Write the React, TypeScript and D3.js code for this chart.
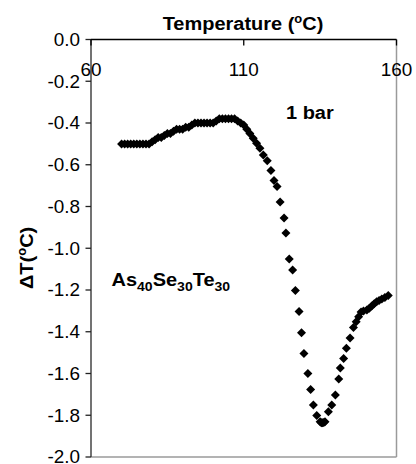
import React from "react";
import * as d3 from "d3";

const temps = [
  70, 71, 72, 73, 74, 75, 76, 77, 78, 79, 80, 81, 82, 83, 84, 85, 86, 87, 88, 89, 90,
  91, 92, 93, 94, 95, 96, 97, 98, 99, 100, 101, 102, 103, 104, 105, 106, 107, 108, 109,
  110, 111, 112, 113.1, 114.2, 115.3, 116.4, 117.7, 118.9, 119.9, 120.9, 121.9, 123.2,
  123.8, 124.9, 126.0, 126.9, 128.1, 128.9, 129.7, 131.0, 131.9, 132.8, 133.9, 135.0,
  135.4, 135.8, 136.2, 136.6, 137.7, 138.8, 140.0, 141.1, 141.6, 142.7, 143.6, 144.8,
  145.9, 146.8, 147.6, 148.4, 149.2, 150.3, 151.1, 151.9, 152.7, 153.5, 154.3, 155.2,
  156.2, 157.3,
];
const deltaT = [
  -0.5, -0.5, -0.5, -0.5, -0.5, -0.5, -0.5, -0.5, -0.5, -0.5, -0.49, -0.48, -0.47, -0.47,
  -0.46, -0.45, -0.45, -0.44, -0.43, -0.43, -0.43, -0.42, -0.42, -0.41, -0.4, -0.4, -0.4,
  -0.4, -0.4, -0.4, -0.4, -0.39, -0.38, -0.38, -0.38, -0.38, -0.38, -0.38, -0.39, -0.4,
  -0.41, -0.43, -0.45, -0.473, -0.497, -0.521, -0.553, -0.581, -0.628, -0.675, -0.704,
  -0.778, -0.855, -0.927, -1.051, -1.104, -1.202, -1.303, -1.405, -1.504, -1.6, -1.677,
  -1.751, -1.801, -1.831, -1.836, -1.836, -1.835, -1.831, -1.783, -1.751, -1.703, -1.626,
  -1.574, -1.528, -1.479, -1.43, -1.38, -1.352, -1.328, -1.305, -1.3, -1.296, -1.287,
  -1.277, -1.266, -1.256, -1.25, -1.243, -1.236, -1.226,
];
const xTicks = [60, 110, 160];
const yTicks = [0, -0.2, -0.4, -0.6, -0.8, -1.0, -1.2, -1.4, -1.6, -1.8, -2.0];

const FONT = "'Liberation Sans', Arial, Helvetica, sans-serif";
const SX = 1.08;

export default function App() {
  const x = d3.scaleLinear().domain([60, 160]).range([91, 396.5]);
  const y = d3.scaleLinear().domain([0, -2]).range([39.5, 457]);
  const [x0, x1] = x.range();
  const [y0, y1] = y.range();
  const r = 4.5;
  const diamond = `M0,${-r}L${r},0L0,${r}L${-r},0Z`;

  return (
    <svg
      width={416}
      height={464}
      style={{ position: "absolute", left: 0, top: 0, background: "#fff" }}
      fontFamily={FONT}
    >
      <rect width={416} height={464} fill="#fff" />
      {/* frame */}
      <line x1={x1} x2={x1} y1={y0} y2={y1} stroke="#9a9a9a" strokeWidth={1.5} />
      <line x1={x0} x2={x1} y1={y1} y2={y1} stroke="#9a9a9a" strokeWidth={1.5} />
      <line x1={x0} x2={x0} y1={y0} y2={y1} stroke="#444" strokeWidth={1.5} />
      <line x1={x0} x2={x1} y1={y0} y2={y0} stroke="#000" strokeWidth={1.5} />

      {/* y ticks */}
      {yTicks.map((t) => (
        <g key={t}>
          <line x1={x0 - 5.5} x2={x0} y1={y(t)} y2={y(t)} stroke="#222" strokeWidth={1.3} />
          <text
            transform={`translate(80,${y(t) + 6.3}) scale(${SX},1)`}
            textAnchor="end"
            fontSize={17.5}
            fill="#000"
          >
            {t.toFixed(1)}
          </text>
        </g>
      ))}

      {/* x ticks */}
      {xTicks.map((t) => (
        <g key={t}>
          <line x1={x(t)} x2={x(t)} y1={y0} y2={y0 + 6} stroke="#000" strokeWidth={1.3} />
          <text
            transform={`translate(${x(t)},76) scale(${SX},1)`}
            textAnchor="middle"
            fontSize={17.5}
            fill="#000"
          >
            {t}
          </text>
        </g>
      ))}

      {/* title */}
      <text
        transform={`translate(243,30) scale(${SX},1)`}
        textAnchor="middle"
        fontSize={18.5}
        fontWeight="bold"
      >
        Temperature (
        <tspan fontSize={12} dy={-7}>o</tspan>
        <tspan dy={7}>C)</tspan>
      </text>

      {/* y label */}
      <text
        transform={`translate(33,289) rotate(-90) scale(${SX},1)`}
        textAnchor="start"
        fontSize={18.5}
        fontWeight="bold"
      >
        ΔT(
        <tspan fontSize={12} dy={-7}>o</tspan>
        <tspan dy={7}>C)</tspan>
      </text>

      {/* annotations */}
      <text
        transform={`translate(286,119) scale(${SX},1)`}
        fontSize={18.5}
        fontWeight="bold"
      >
        1 bar
      </text>
      <text
        transform={`translate(111.5,286) scale(${SX},1)`}
        fontSize={18.5}
        fontWeight="bold"
      >
        As<tspan fontSize={13} dy={5}>40</tspan>
        <tspan dy={-5}>Se</tspan>
        <tspan fontSize={13} dy={5}>30</tspan>
        <tspan dy={-5}>Te</tspan>
        <tspan fontSize={13} dy={5}>30</tspan>
      </text>

      {/* data */}
      {temps.map((t, i) => (
        <path key={i} d={diamond} transform={`translate(${x(t)},${y(deltaT[i])})`} fill="#000" />
      ))}
    </svg>
  );
}
